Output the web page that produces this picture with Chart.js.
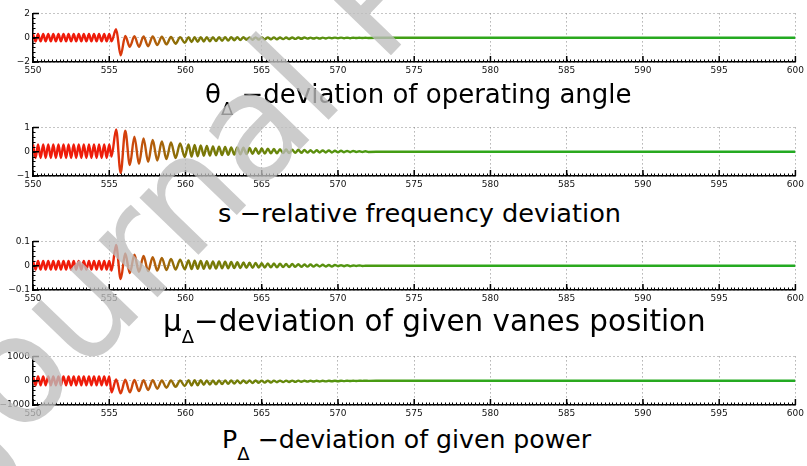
<!DOCTYPE html>
<html>
<head>
<meta charset="utf-8">
<script src="https://cdn.jsdelivr.net/npm/chart.js@4.4.1/dist/chart.umd.min.js"></script>
<style>
  html, body { margin: 0; padding: 0; background: #fff; }
  #wrap { position: relative; width: 807px; height: 466px; overflow: hidden; background: #fff; }
  canvas { position: absolute; left: 0; }
  .ttl { position: absolute; white-space: nowrap; font-family: 'DejaVu Sans', sans-serif; font-size: 26px; line-height: 26px; color: #000; transform-origin: 0 0; }
  .ttl sub { font-size: 18px; vertical-align: -12px; line-height: 0; }
  #wm { position: absolute; left: 0; top: 0; white-space: nowrap; font-family: 'DejaVu Sans', sans-serif; font-size: 150px; line-height: 150px;
        color: rgba(190, 190, 190, 0.78); transform-origin: 0 0; transform: translate(-104px, 385px) rotate(-46deg); pointer-events: none; }
</style>
</head>
<body>
<div id="wrap">
  <canvas id="c1" width="807" height="75" style="top:5px"></canvas>
  <canvas id="c2" width="807" height="75" style="top:119px"></canvas>
  <canvas id="c3" width="807" height="75" style="top:233px"></canvas>
  <canvas id="c4" width="807" height="75" style="top:348px"></canvas>
  <div class="ttl" style="left:205px;top:81px">θ<sub>Δ</sub> −deviation of operating angle</div>
  <div class="ttl" style="left:218px;top:200px;font-size:25.6px">s −relative frequency deviation</div>
  <div class="ttl" style="left:163px;top:307px;font-size:29.4px;line-height:29px">μ<sub>Δ</sub>−deviation of given vanes position</div>
  <div class="ttl" style="left:222px;top:427px;font-size:25.2px">P<sub>Δ</sub> −deviation of given power</div>
  <div id="wm">Journal Pre-proof</div>
</div>
<script>
// times (s) of the peaks / troughs
var tSteady = [550, 550.17, 550.33, 550.5, 550.67, 550.83, 551, 551.17, 551.33, 551.5, 551.67, 551.83,
  552, 552.17, 552.33, 552.5, 552.67, 552.83, 553, 553.17, 553.33, 553.5, 553.67, 553.83,
  554, 554.17, 554.33, 554.5, 554.67, 554.83, 555];
var tSwing = [555.15, 555.45, 555.75, 556.05, 556.35, 556.65, 556.95, 557.25, 557.55, 557.85,
  558.15, 558.45, 558.75, 559.05, 559.35, 559.65, 559.95];
var tDecay = [560.2, 560.4, 560.6, 560.8, 561, 561.2, 561.4, 561.6, 561.8, 562, 562.2, 562.4, 562.6, 562.8, 563,
  563.2, 563.4, 563.6, 563.8, 564, 564.2, 564.4, 564.6, 564.8, 565, 565.2, 565.4, 565.6, 565.8, 566,
  566.2, 566.4, 566.6, 566.8, 567, 567.2, 567.4, 567.6, 567.8, 568, 568.2, 568.4, 568.6, 568.8, 569,
  569.2, 569.4, 569.6, 569.8, 570, 570.2, 570.4, 570.6, 570.8, 571, 571.2, 571.4, 571.6, 571.8, 572];
var tTail = [573, 600];

var xTicks = [550, 555, 560, 565, 570, 575, 580, 585, 590, 595, 600];

// theta_delta - deviation of operating angle
var thetaSteady = [0.3, -0.3, 0.3, -0.3, 0.3, -0.3, 0.3, -0.3, 0.3, -0.3, 0.3, -0.3, 0.3, -0.3, 0.3, -0.3,
  0.3, -0.3, 0.3, -0.3, 0.3, -0.3, 0.3, -0.3, 0.3, -0.3, 0.3, -0.3, 0.3, -0.3, 0.3];
var thetaSwing = [-0.3, 0.7, -1.45, 0.15, -0.75, 0.12, -0.75, 0.1, -0.7, 0.1, -0.6, 0.08, -0.55, 0.06, -0.5, 0.05, -0.42];
var thetaDecay = [0.05, -0.36, 0.05, -0.33, 0.05, -0.31, 0.05, -0.29, 0.05, -0.27, 0.04, -0.25, 0.04, -0.23, 0.04, -0.21,
  0.04, -0.2, 0.04, -0.18, 0.03, -0.17, 0.03, -0.16, 0.03, -0.15, 0.03, -0.14, 0.03, -0.13, 0.02, -0.12, 0.02, -0.11,
  0.02, -0.1, 0.02, -0.09, 0.02, -0.08, 0.01, -0.07, 0.01, -0.07, 0.01, -0.06, 0.01, -0.05, 0.01, -0.05, 0.01, -0.04,
  0, -0.04, 0, -0.03, 0, -0.02, 0, -0.02];
var thetaTail = [0, 0];

// s - relative frequency deviation
var sSteady = [0.3, -0.26, 0.3, -0.26, 0.3, -0.26, 0.3, -0.26, 0.3, -0.26, 0.3, -0.26, 0.3, -0.26, 0.3, -0.26,
  0.3, -0.26, 0.3, -0.26, 0.3, -0.26, 0.3, -0.26, 0.3, -0.26, 0.3, -0.26, 0.3, -0.26, 0.3];
var sSwing = [-0.2, 0.92, -0.88, 0.86, -0.55, 0.62, -0.5, 0.55, -0.42, 0.48, -0.36, 0.42, -0.3, 0.38, -0.26, 0.34, -0.22];
var sDecay = [0.3, -0.2, 0.28, -0.19, 0.26, -0.17, 0.24, -0.16, 0.22, -0.15, 0.21, -0.14, 0.2, -0.13, 0.18, -0.12,
  0.17, -0.11, 0.16, -0.1, 0.15, -0.09, 0.14, -0.09, 0.13, -0.08, 0.12, -0.07, 0.11, -0.07, 0.1, -0.06, 0.09, -0.06,
  0.08, -0.05, 0.08, -0.05, 0.07, -0.04, 0.06, -0.04, 0.06, -0.03, 0.05, -0.03, 0.05, -0.03, 0.04, -0.02, 0.04, -0.02,
  0.03, -0.02, 0.03, -0.01, 0.02, -0.01, 0.02, -0.01];
var sTail = [0, 0];

// mu_delta - deviation of given vanes position
var muSteady = [0.02, -0.016, 0.02, -0.016, 0.02, -0.016, 0.02, -0.016, 0.02, -0.016, 0.02, -0.016, 0.02, -0.016,
  0.02, -0.016, 0.02, -0.016, 0.02, -0.016, 0.02, -0.016, 0.02, -0.016, 0.02, -0.016, 0.02, -0.016, 0.02, -0.016, 0.02];
var muSwing = [-0.02, 0.085, -0.055, 0.05, -0.03, 0.045, -0.025, 0.04, -0.022, 0.035, -0.02, 0.032, -0.018, 0.028, -0.016, 0.025, -0.015];
var muDecay = [0.022, -0.014, 0.021, -0.013, 0.02, -0.013, 0.019, -0.012, 0.018, -0.012, 0.017, -0.011, 0.016, -0.011,
  0.015, -0.01, 0.014, -0.01, 0.013, -0.009, 0.012, -0.009, 0.011, -0.008, 0.01, -0.008, 0.009, -0.007, 0.009, -0.007,
  0.008, -0.006, 0.007, -0.006, 0.007, -0.005, 0.006, -0.005, 0.005, -0.004, 0.005, -0.004, 0.004, -0.003, 0.004, -0.003,
  0.003, -0.003, 0.003, -0.002, 0.002, -0.002, 0.002, -0.002, 0.001, -0.001, 0.001, -0.001, 0, 0];
var muTail = [0, 0];

// P_delta - deviation of given power
var pSteady = [180, -190, 180, -190, 180, -190, 180, -190, 180, -190, 180, -190, 180, -190, 180, -190,
  180, -190, 180, -190, 180, -190, 180, -190, 180, -190, 180, -190, 180, -190, 180];
var pSwing = [-480, 50, -520, 40, -480, 30, -430, 20, -380, 20, -330, 10, -290, 10, -250, 10, -220];
var pDecay = [20, -200, 20, -185, 20, -170, 15, -160, 15, -150, 15, -140, 15, -130, 10, -120, 10, -110, 10, -100,
  10, -92, 10, -85, 5, -78, 5, -72, 5, -66, 5, -60, 5, -55, 5, -50, 5, -45, 0, -40, 0, -36, 0, -32, 0, -28,
  0, -25, 0, -22, 0, -18, 0, -15, 0, -12, 0, -9, 0, -6];
var pTail = [0, 0];

// colour along time: red before the event, fading through olive to green
var colourStops = [[550, '#f01a0a'], [555, '#ee1c0a'], [556, '#d4400c'], [558, '#b0600a'], [560, '#7f7406'],
  [565, '#6c840a'], [572, '#4a9a12'], [580, '#2ea81c'], [600, '#22aa22']];

var allTimes = tSteady.concat(tSwing, tDecay, tTail);

function toPoints(steady, swing, decay, tail) {
  var ys = steady.concat(swing, decay, tail);
  return allTimes.map(function(t, i) { return { x: t, y: ys[i] }; });
}

function redToGreen(ctx) {
  var chart = ctx.chart, area = chart.chartArea;
  if (!area) return '#e01a0a';
  var xs = chart.scales.x;
  var g = chart.ctx.createLinearGradient(area.left, 0, area.right, 0);
  colourStops.forEach(function(s) {
    var f = (xs.getPixelForValue(s[0]) - area.left) / (area.right - area.left);
    g.addColorStop(Math.min(1, Math.max(0, f)), s[1]);
  });
  return g;
}

// inward major ticks + small minor ticks along the two axes
var axisTicks = {
  id: 'axisTicks',
  afterDraw: function(chart) {
    var c = chart.ctx, a = chart.chartArea, xs = chart.scales.x, ys = chart.scales.y;
    c.save();
    c.strokeStyle = '#000';
    c.lineWidth = 1;
    c.beginPath();
    for (var v = 550; v <= 600.001; v += 0.25) {
      var px = Math.round(xs.getPixelForValue(v)) + 0.5;
      c.moveTo(px, a.bottom); c.lineTo(px, a.bottom - 2.5);
    }
    var step = (ys.max - ys.min) / 10;
    for (var k = 0; k <= 10; k++) {
      var py = Math.round(ys.getPixelForValue(ys.min + k * step)) + 0.5;
      c.moveTo(a.left, py); c.lineTo(a.left + 2.5, py);
    }
    c.stroke();
    c.lineWidth = 1.5;
    c.beginPath();
    xs.ticks.forEach(function(t) {
      var px = xs.getPixelForValue(t.value);
      c.moveTo(px, a.bottom); c.lineTo(px, a.bottom - 6);
    });
    ys.ticks.forEach(function(t) {
      var py = ys.getPixelForValue(t.value);
      c.moveTo(a.left, py); c.lineTo(a.left + 6, py);
    });
    c.stroke();
    c.restore();
  }
};

function makePanel(id, points, yMin, yMax) {
  var el = document.getElementById(id);
  new Chart(el.getContext('2d'), {
    type: 'line',
    data: { datasets: [{ data: points, borderColor: redToGreen, borderWidth: 2.4, pointRadius: 0,
      cubicInterpolationMode: 'monotone', fill: false }] },
    options: {
      responsive: false,
      animation: false,
      parsing: false,
      layout: { autoPadding: false, padding: { top: 8, right: 6, left: 0, bottom: 0 } },
      plugins: { legend: { display: false }, tooltip: { enabled: false } },
      scales: {
        x: {
          type: 'linear', min: 550, max: 600,
          afterBuildTicks: function(s) { s.ticks = xTicks.map(function(v) { return { value: v }; }); },
          afterFit: function(s) { s.height = 18; },
          ticks: { color: '#111', font: { family: 'DejaVu Sans', size: 9 }, padding: 3, maxRotation: 0, autoSkip: false },
          grid: { color: '#8a8a8a', lineWidth: 1, drawTicks: false, tickLength: 0 },
          border: { display: true, color: '#000', width: 1.5, dash: [1, 3] }
        },
        y: {
          min: yMin, max: yMax,
          afterBuildTicks: function(s) { s.ticks = [yMin, 0, yMax].map(function(v) { return { value: v }; }); },
          afterFit: function(s) { s.width = 33; },
          ticks: { color: '#111', font: { family: 'DejaVu Sans', size: 9 }, padding: 3,
            callback: function(v) { return String(v).replace('-', '\u2212'); } },
          grid: { color: '#8a8a8a', lineWidth: 1, drawTicks: false, tickLength: 0 },
          border: { display: true, color: '#000', width: 1.5, dash: [1, 3] }
        }
      }
    },
    plugins: [axisTicks]
  });
}

makePanel('c1', toPoints(thetaSteady, thetaSwing, thetaDecay, thetaTail), -2, 2);
makePanel('c2', toPoints(sSteady, sSwing, sDecay, sTail), -1, 1);
makePanel('c3', toPoints(muSteady, muSwing, muDecay, muTail), -0.1, 0.1);
makePanel('c4', toPoints(pSteady, pSwing, pDecay, pTail), -1000, 1000);
</script>
</body>
</html>
